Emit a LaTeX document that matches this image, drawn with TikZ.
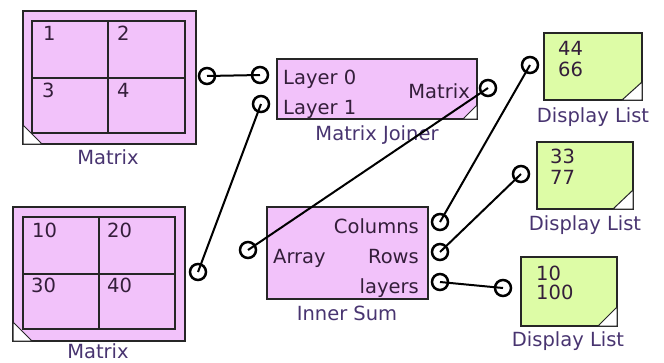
\documentclass[tikz,border=0pt]{standalone}
\usepackage{fontspec}
\setmainfont{DejaVu Sans}
\usepackage{xcolor}
\usepackage{tikz}
\usetikzlibrary{positioning}
\definecolor{blockpink}{RGB}{242, 194, 250}
\definecolor{displaygreen}{RGB}{221, 252, 166}
\definecolor{labelpurple}{RGB}{72, 52, 112}
\definecolor{textdark}{RGB}{52, 30, 58}

\begin{document}
\begin{tikzpicture}[x=1pt, y=-1pt,
        block/.style={draw=black!85, line width=1.5pt, fill=blockpink, inner sep=0pt},
        displaybox/.style={draw=black!85, line width=1.5pt, fill=displaygreen, inner sep=0pt},
        port/.style={circle, draw=black, line width=2.5pt, inner sep=0pt, minimum size=16pt},
        wire/.style={line width=2pt, black},
        gridline/.style={draw=black!85, line width=1.3pt},
        cornerflag/.style={fill=white, draw=black!85, line width=1pt},
        caption/.style={font=\fontsize{19.5}{21}\selectfont, text=labelpurple, inner sep=0pt},
        pinlabel/.style={font=\fontsize{19.5}{21}\selectfont, text=textdark, inner sep=0pt}]
        \useasboundingbox (0,0) rectangle (664,362);

        % Matrix (top)
        \node[block, minimum width=173pt, minimum height=133pt] (matA) at (109.5,77.5) {};
        \draw[gridline] (32,21) rectangle (185,133);
        \draw[gridline] (108,21) -- (108,133);
        \draw[gridline] (32,78) -- (185,78);
        \draw[cornerflag] (23,125) -- (42,144) -- (23,144) -- cycle;
        \node[pinlabel, anchor=base west] (matAa) at (43,40) {1};
        \node[pinlabel, anchor=base west] (matAb) at (117,40) {2};
        \node[pinlabel, anchor=base west] (matAc) at (42,97) {3};
        \node[pinlabel, anchor=base west] (matAd) at (117,97) {4};
        \node[caption, anchor=base] (matAcap) at (108,164) {Matrix};
        \node[port] (matAout) at (207,76) {};

        % Matrix (bottom)
        \node[block, minimum width=172pt, minimum height=134pt] (matB) at (99,274) {};
        \draw[gridline] (23,217) rectangle (175,329);
        \draw[gridline] (99,217) -- (99,329);
        \draw[gridline] (23,274) -- (175,274);
        \draw[cornerflag] (13,322) -- (32,341) -- (13,341) -- cycle;
        \node[pinlabel, anchor=base west] (matBa) at (32,237) {10};
        \node[pinlabel, anchor=base west] (matBb) at (107,237) {20};
        \node[pinlabel, anchor=base west] (matBc) at (31,292) {30};
        \node[pinlabel, anchor=base west] (matBd) at (107,292) {40};
        \node[caption, anchor=base] (matBcap) at (98,358) {Matrix};
        \node[port] (matBout) at (198,272) {};

        % Matrix Joiner
        \node[block, minimum width=200pt, minimum height=60pt] (joiner) at (377,89) {};
        \draw[cornerflag] (463,119) -- (477,105) -- (477,119) -- cycle;
        \node[pinlabel, anchor=base west] (joinAtxt) at (283,84) {Layer 0};
        \node[pinlabel, anchor=base west] (joinBtxt) at (283,114) {Layer 1};
        \node[pinlabel, anchor=base east] (joinOtxt) at (470,98) {Matrix};
        \node[caption, anchor=base] (joincap) at (377,140) {Matrix Joiner};
        \node[port] (joinA) at (260,75) {};
        \node[port] (joinB) at (261,104) {};
        \node[port] (joinout) at (488,88) {};

        % Inner Sum
        \node[block, minimum width=161pt, minimum height=92pt] (innersum) at (347.5,253) {};
        \node[pinlabel, anchor=base west] (sumintxt) at (273,263) {Array};
        \node[pinlabel, anchor=base east] (sumcoltxt) at (419,233) {Columns};
        \node[pinlabel, anchor=base east] (sumrowtxt) at (419,263) {Rows};
        \node[pinlabel, anchor=base east] (sumlaytxt) at (419,293) {layers};
        \node[caption, anchor=base] (sumcap) at (347,320) {Inner Sum};
        \node[port] (sumin) at (248,250) {};
        \node[port] (sumcol) at (440,222) {};
        \node[port] (sumrow) at (440,252) {};
        \node[port] (sumlay) at (440,282) {};

        % Display Lists
        \node[displaybox, minimum width=98pt, minimum height=67pt] (dispA) at (593,66.5) {};
        \draw[cornerflag] (622,100) -- (642,82) -- (642,100) -- cycle;
        \node[pinlabel, anchor=base west] (dispAtxt) at (558,55) {44};
        \node[pinlabel, anchor=base west] (dispAtxtb) at (558,76) {66};
        \node[caption, anchor=base] (dispAcap) at (593,122) {Display List};
        \node[port] (dispAin) at (530,65) {};

        \node[displaybox, minimum width=96pt, minimum height=67pt] (dispB) at (585,175.5) {};
        \draw[cornerflag] (613,209) -- (633,190) -- (633,209) -- cycle;
        \node[pinlabel, anchor=base west] (dispBtxt) at (550,163) {33};
        \node[pinlabel, anchor=base west] (dispBtxtb) at (550,184) {77};
        \node[caption, anchor=base] (dispBcap) at (585,230) {Display List};
        \node[port] (dispBin) at (521,174) {};

        \node[displaybox, minimum width=96pt, minimum height=69pt] (dispC) at (569,291.5) {};
        \draw[cornerflag] (598,326) -- (617,307) -- (617,326) -- cycle;
        \node[pinlabel, anchor=base west] (dispCtxt) at (536,280) {10};
        \node[pinlabel, anchor=base west] (dispCtxtb) at (536,299) {100};
        \node[caption, anchor=base] (dispCcap) at (568,346) {Display List};
        \node[port] (dispCin) at (503,288) {};

        % Wires
        \draw[wire] (matAout.center) -- (joinA.center);
        \draw[wire] (matBout.center) -- (joinB.center);
        \draw[wire] (joinout.center) -- (sumin.center);
        \draw[wire] (sumcol.center) -- (dispAin.center);
        \draw[wire] (sumrow.center) -- (dispBin.center);
        \draw[wire] (sumlay.center) -- (dispCin.center);
\end{tikzpicture}
\end{document}
